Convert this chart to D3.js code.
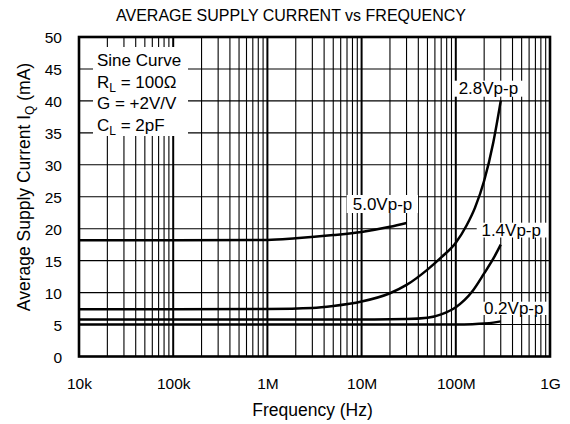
<!DOCTYPE html>
<html>
<head>
<meta charset="utf-8">
<script src="https://cdn.jsdelivr.net/npm/d3@7"></script>
<style>
  body { margin: 0; background: #fff; }
  svg { display: block; }
  text { font-family: "Liberation Sans", Arial, sans-serif; fill: #000; }
</style>
</head>
<body>
<svg id="chart" width="570" height="424"></svg>
<script>
// ---- data ----
const xTickValues = [1e4, 1e5, 1e6, 1e7, 1e8, 1e9];
const xTickLabels = ["10k", "100k", "1M", "10M", "100M", "1G"];
const yTickValues = [0, 5, 10, 15, 20, 25, 30, 35, 40, 45, 50];

const series5v0 = [[1e4, 18.2], [1e5, 18.2], [1e6, 18.25], [2e6, 18.5], [5e6, 19.0], [1e7, 19.5], [2e7, 20.3], [3e7, 20.9]];
const series2v8 = [[1e4, 7.4], [1e5, 7.4], [1e6, 7.45], [3e6, 7.6], [5e6, 7.9], [1e7, 8.6], [2e7, 9.9], [3e7, 11.2], [5e7, 13.6], [7e7, 15.5], [1e8, 17.8], [1.3e8, 20.5], [1.6e8, 23.3], [2e8, 27.5], [2.5e8, 33.5], [3e8, 40]];
const series1v4 = [[1e4, 5.8], [1e6, 5.8], [1e7, 5.8], [3e7, 5.85], [5e7, 6.05], [7e7, 6.6], [1e8, 7.7], [1.5e8, 10.2], [2e8, 13.0], [2.5e8, 15.3], [3e8, 17.5]];
const series0v2 = [[1e4, 5.0], [1e6, 5.0], [1e8, 5.0], [1.5e8, 5.05], [2e8, 5.15], [2.5e8, 5.3], [3e8, 5.5]];
const seriesNames = ["5.0Vp-p", "2.8Vp-p", "1.4Vp-p", "0.2Vp-p"];
const conditions = ["Sine Curve", "R|L| = 100Ω", "G = +2V/V", "C|L| = 2pF"];

// ---- layout ----
const L = 79, R = 550, T = 37, B = 356.5;
const svg = d3.select("#chart");
const x = d3.scaleLog().domain([1e4, 1e9]).range([L, R]);
const y = d3.scaleLinear().domain([0, 50]).range([B, T]);

// gridlines
const minor = [];
for (let d = 1e4; d < 1e9; d *= 10) for (let m = 2; m <= 9; m++) minor.push(d * m);
const g = svg.append("g");
g.selectAll(".vmin").data(minor).enter().append("line")
  .attr("x1", d => x(d)).attr("x2", d => x(d)).attr("y1", T).attr("y2", B)
  .attr("stroke", "#000").attr("stroke-width", 1.1);
g.selectAll(".vmaj").data(xTickValues.slice(1, -1)).enter().append("line")
  .attr("x1", d => x(d)).attr("x2", d => x(d)).attr("y1", T).attr("y2", B)
  .attr("stroke", "#000").attr("stroke-width", 2);
g.selectAll(".h").data(yTickValues.slice(1, -1)).enter().append("line")
  .attr("x1", L).attr("x2", R).attr("y1", d => y(d)).attr("y2", d => y(d))
  .attr("stroke", "#000").attr("stroke-width", 1.1);

// conditions box (white over grid)
svg.append("rect").attr("x", 93).attr("y", 47).attr("width", 95).attr("height", 89).attr("fill", "#fff");
function richText(sel, str, sub) {
  const parts = str.split("|");
  parts.forEach((p, i) => {
    if (i % 2 === 1) sel.append("tspan").attr("font-size", sub).attr("dy", 4).text(p);
    else sel.append("tspan").attr("dy", i === 0 ? 0 : -4).text(p);
  });
}
conditions.forEach((c, i) => {
  const t = svg.append("text").attr("x", 97).attr("y", 66 + i * 21.7).attr("font-size", 17);
  richText(t, c, 12);
});

// curves
const line = d3.line().x(d => x(d[0])).y(d => y(d[1])).curve(d3.curveMonotoneX);
[series5v0, series2v8, series1v4, series0v2].forEach(s => {
  svg.append("path").attr("d", line(s)).attr("fill", "none").attr("stroke", "#000").attr("stroke-width", 2.5);
});

// series labels with white boxes
const labelPos = [
  { cx: 382.5, base: 210, x0: 346.7, x1: 418, y0: 195, y1: 213 },
  { cx: 488.4, base: 94, x0: 452.7, x1: 525, y0: 80.7, y1: 96.7 },
  { cx: 511.2, base: 236, x0: 476.7, x1: 550, y0: 222.7, y1: 237.5 },
  { cx: 513.7, base: 314, x0: 480, x1: 550, y0: 301.7, y1: 315 }
];
seriesNames.forEach((n, i) => {
  const p = labelPos[i];
  svg.append("rect").attr("x", p.x0).attr("y", p.y0).attr("width", p.x1 - p.x0).attr("height", p.y1 - p.y0).attr("fill", "#fff");
  svg.append("text").attr("x", p.cx).attr("y", p.base).attr("text-anchor", "middle").attr("font-size", 17).text(n);
});

// frame
svg.append("rect").attr("x", L).attr("y", T).attr("width", R - L).attr("height", B - T)
  .attr("fill", "none").attr("stroke", "#000").attr("stroke-width", 2.6);

// axes labels
const xAxis = d3.axisBottom(x).tickValues(xTickValues).tickFormat((d, i) => xTickLabels[i]).tickSize(0).tickPadding(0);
const xa = svg.append("g").attr("transform", `translate(0,${B})`).call(xAxis);
xa.select(".domain").remove();
xa.selectAll("text").attr("font-size", 15.5).attr("y", 32.5).attr("dy", 0).attr("font-family", "Liberation Sans, Arial, sans-serif");

const yAxis = d3.axisLeft(y).tickValues(yTickValues).tickSize(0).tickPadding(0);
const ya = svg.append("g").attr("transform", `translate(62,0)`).call(yAxis);
ya.select(".domain").remove();
ya.selectAll("text").attr("font-size", 15.5).attr("x", 0).attr("dy", "0.36em").attr("font-family", "Liberation Sans, Arial, sans-serif");

svg.append("text").attr("x", 291).attr("y", 21).attr("text-anchor", "middle").attr("font-size", 16)
  .text("AVERAGE SUPPLY CURRENT vs FREQUENCY");
svg.append("text").attr("x", 312.5).attr("y", 416).attr("text-anchor", "middle").attr("font-size", 17.5)
  .text("Frequency (Hz)");
const yl = svg.append("text").attr("transform", "translate(29.5,187) rotate(-90)").attr("text-anchor", "middle").attr("font-size", 17.5);
yl.append("tspan").text("Average Supply Current I");
yl.append("tspan").attr("font-size", 12).attr("dy", 4).text("Q");
yl.append("tspan").attr("dy", -4).text(" (mA)");
</script>
</body>
</html>
